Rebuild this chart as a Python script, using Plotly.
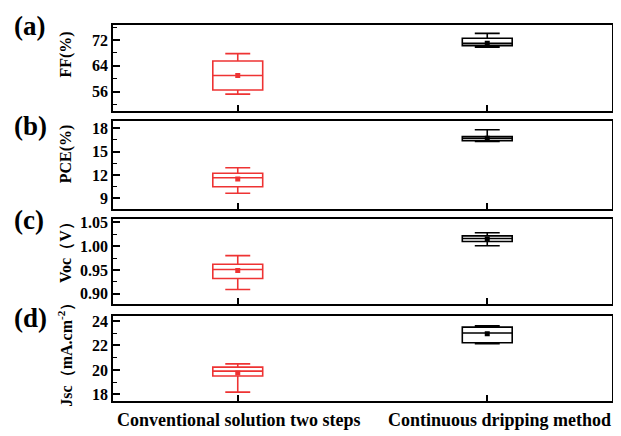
import plotly.graph_objects as go

categories = ["Conventional solution two steps", "Continuous dripping method"]
colors = ["#EE3333", "#000000"]

# FF (%)
ff_lower = [55.2, 69.8]
ff_q1 = [56.5, 70.3]
ff_median = [61.0, 71.0]
ff_q3 = [65.5, 72.6]
ff_upper = [67.8, 74.1]
ff_mean = [61.0, 71.0]

# PCE (%)
pce_lower = [9.67, 16.3]
pce_q1 = [10.5, 16.4]
pce_median = [11.65, 16.7]
pce_q3 = [12.22, 16.95]
pce_upper = [12.93, 17.8]
pce_mean = [11.5, 16.72]

# Voc (V)
voc_lower = [0.909, 1.0007]
voc_q1 = [0.932, 1.0095]
voc_median = [0.951, 1.016]
voc_q3 = [0.962, 1.0215]
voc_upper = [0.980, 1.028]
voc_mean = [0.949, 1.015]

# Jsc (mA.cm-2)
jsc_lower = [18.19, 22.14]
jsc_q1 = [19.51, 22.22]
jsc_median = [19.9, 23.02]
jsc_q3 = [20.23, 23.5]
jsc_upper = [20.5, 23.6]
jsc_mean = [19.75, 22.97]

panels = [
    ("FF(%)", [ff_lower, ff_q1, ff_median, ff_q3, ff_upper, ff_mean], [50, 76.7], 8, "(a)"),
    ("PCE(%)", [pce_lower, pce_q1, pce_median, pce_q3, pce_upper, pce_mean], [7.7, 18.9], 3, "(b)"),
    ("Voc（V）", [voc_lower, voc_q1, voc_median, voc_q3, voc_upper, voc_mean], [0.879, 1.057], 0.05, "(c)"),
    ("Jsc（mA.cm<sup>-2</sup>）", [jsc_lower, jsc_q1, jsc_median, jsc_q3, jsc_upper, jsc_mean], [17.46, 24.4], 2, "(d)"),
]
tick0s = [56, 9, 0.9, 18]
domains = [[0.7717, 1.0], [0.5118, 0.7441], [0.2585, 0.4843], [0.0, 0.2257]]
letter_y = [0.9974, 0.7323, 0.4803, 0.2205]
title_y = [0.9213, 0.6588, 0.4068, 0.1339]
xlabel_x = [0.2525, 0.774]

FONT = "Times New Roman, Liberation Serif, serif"

fig = go.Figure()
layout = dict(
    width=621, height=436,
    margin=dict(l=105, r=17, t=12, b=43),
    paper_bgcolor="white", plot_bgcolor="white",
    showlegend=False, boxmode="overlay",
    font=dict(family=FONT, size=16, color="black", weight="bold"),
    annotations=[],
)

for i, (title, vals, yr, dt, letter) in enumerate(panels):
    n = i + 1
    xname = "x" if n == 1 else f"x{n}"
    yname = "y" if n == 1 else f"y{n}"
    lower, q1, med, q3, upper, mean = vals
    for j, cat in enumerate(categories):
        fig.add_trace(go.Box(
            x=[cat], q1=[q1[j]], median=[med[j]], q3=[q3[j]],
            lowerfence=[lower[j]], upperfence=[upper[j]],
            width=0.2, whiskerwidth=0.5, boxpoints=False,
            line=dict(color=colors[j], width=1.6),
            fillcolor="rgba(0,0,0,0)",
            xaxis=xname, yaxis=yname, hoverinfo="skip",
        ))
        fig.add_trace(go.Scatter(
            x=[cat], y=[mean[j]], mode="markers",
            marker=dict(symbol="square", size=5, color=colors[j]),
            xaxis=xname, yaxis=yname, hoverinfo="skip",
        ))
    xkey = "xaxis" if n == 1 else f"xaxis{n}"
    ykey = "yaxis" if n == 1 else f"yaxis{n}"
    layout[xkey] = dict(
        domain=[0, 1], anchor=yname, type="category",
        categoryorder="array", categoryarray=categories,
        range=[-0.5, 1.5], showline=True, mirror=True,
        linecolor="black", linewidth=1.5, ticks="inside", ticklen=6,
        tickwidth=1.5, tickcolor="black", showgrid=False, zeroline=False,
        showticklabels=False,
    )
    layout[ykey] = dict(
        domain=domains[i], anchor=xname, range=yr,
        tick0=tick0s[i], dtick=dt,
        showline=True, mirror=True, linecolor="black", linewidth=1.5,
        ticks="inside", ticklen=7, tickwidth=1.5, tickcolor="black",
        minor=dict(ticks="inside", ticklen=4, tickwidth=1.2, tickcolor="black",
                   dtick=dt / 2, tick0=tick0s[i]),
        showgrid=False, zeroline=False,
        tickfont=dict(family=FONT, size=16, color="black", weight="bold"),
        tickformat=".2f" if n == 3 else None,
    )
    layout["annotations"].append(dict(
        text=title, xref="paper", yref="paper", x=-0.0942, y=title_y[i],
        xanchor="center", yanchor="middle", textangle=-90, showarrow=False,
        font=dict(family=FONT, size=16, color="black", weight="bold"),
    ))
    layout["annotations"].append(dict(
        text=letter, xref="paper", yref="paper", x=-0.2024, y=letter_y[i],
        xanchor="left", yanchor="middle", showarrow=False,
        font=dict(family=FONT, size=27, color="black", weight="bold"),
    ))

for k, cat in enumerate(categories):
    layout["annotations"].append(dict(
        text=cat, xref="paper", yref="paper", x=xlabel_x[k], y=-0.0499,
        xanchor="center", yanchor="middle", showarrow=False,
        font=dict(family=FONT, size=18, color="black", weight="bold"),
    ))

fig.update_layout(**layout)
fig.write_html("out.html")
